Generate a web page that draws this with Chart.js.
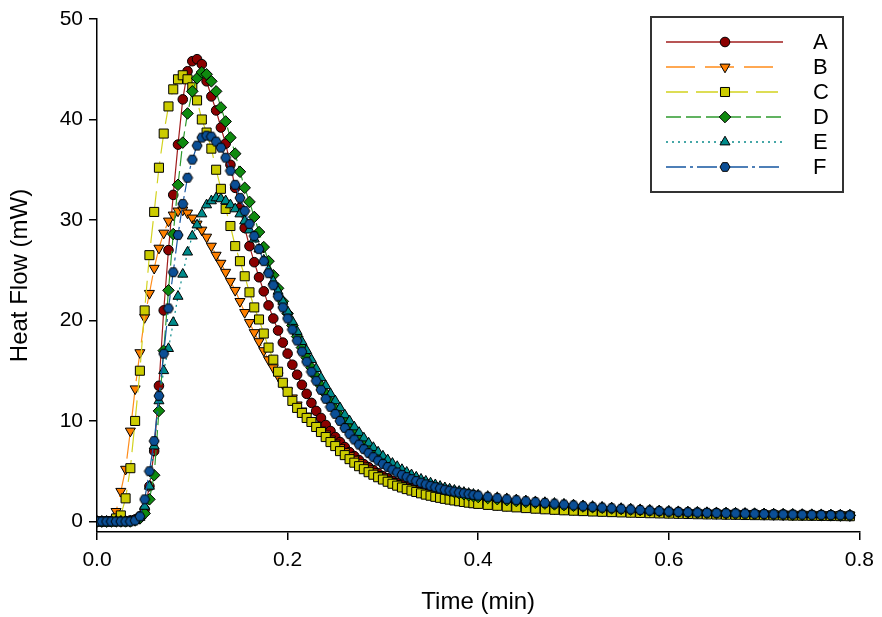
<!DOCTYPE html>
<html>
<head>
<meta charset="utf-8">
<script src="https://cdn.jsdelivr.net/npm/chart.js"></script>
<style>
  body { margin: 0; background: #fff; }
  #wrap { width: 882px; height: 617px; }
</style>
</head>
<body>
<div id="wrap"><canvas id="heatChart" width="882" height="617"></canvas></div>
<script>
// time (min)
const time = [
  0, 0.005, 0.01, 0.015, 0.02, 0.025, 0.03, 0.035, 0.04, 0.045,
  0.05, 0.055, 0.06, 0.065, 0.07, 0.075, 0.08, 0.085, 0.09, 0.095,
  0.1, 0.105, 0.11, 0.115, 0.12, 0.125, 0.13, 0.135, 0.14, 0.145,
  0.15, 0.155, 0.16, 0.165, 0.17, 0.175, 0.18, 0.185, 0.19, 0.195,
  0.2, 0.205, 0.21, 0.215, 0.22, 0.225, 0.23, 0.235, 0.24, 0.245,
  0.25, 0.255, 0.26, 0.265, 0.27, 0.275, 0.28, 0.285, 0.29, 0.295,
  0.3, 0.305, 0.31, 0.315, 0.32, 0.325, 0.33, 0.335, 0.34, 0.345,
  0.35, 0.355, 0.36, 0.365, 0.37, 0.375, 0.38, 0.385, 0.39, 0.395,
  0.4, 0.41, 0.42, 0.43, 0.44, 0.45, 0.46, 0.47, 0.48, 0.49,
  0.5, 0.51, 0.52, 0.53, 0.54, 0.55, 0.56, 0.57, 0.58, 0.59,
  0.6, 0.61, 0.62, 0.63, 0.64, 0.65, 0.66, 0.67, 0.68, 0.69,
  0.7, 0.71, 0.72, 0.73, 0.74, 0.75, 0.76, 0.77, 0.78, 0.79
];

// heat flow (mW) per sample
const flowA = [
  0, 0, 0, 0, 0, 0, 0, 0.1, 0.2, 0.5,
  1.2, 3.5, 7, 13.5, 21, 27, 32.5, 37.5, 42, 44.8,
  45.8, 46, 45.5, 43.8, 42.3, 40.9, 39.2, 37.6, 35.5, 33.2,
  31.2, 29.2, 27.4, 25.8, 24.3, 22.9, 21.5, 20.2, 19, 17.8,
  16.7, 15.6, 14.6, 13.6, 12.7, 11.8, 11, 10.3, 9.6, 9,
  8.4, 7.9, 7.4, 6.9, 6.5, 6.1, 5.7, 5.4, 5.1, 4.8,
  4.5, 4.3, 4.05, 3.85, 3.65, 3.45, 3.3, 3.15, 3, 2.87,
  2.75, 2.64, 2.54, 2.45, 2.36, 2.28, 2.2, 2.13, 2.06, 2,
  1.94, 1.83, 1.74, 1.66, 1.58, 1.51, 1.45, 1.39, 1.34, 1.29,
  1.25, 1.21, 1.17, 1.13, 1.1, 1.07, 1.04, 1.01, 0.98, 0.95,
  0.93, 0.9, 0.88, 0.86, 0.84, 0.82, 0.8, 0.78, 0.76, 0.74,
  0.72, 0.7, 0.69, 0.67, 0.66, 0.64, 0.63, 0.62, 0.6, 0.59
];
const flowB = [
  0, 0, 0, 0.2, 1, 3, 5.2, 9, 13.2, 16.8,
  20.3, 22.7, 25.2, 27.2, 28.7, 29.9, 30.5, 30.9, 31, 30.7,
  30.2, 29.6, 29, 28.3, 27.4, 26.5, 25.7, 24.8, 23.9, 23,
  21.9, 20.8, 19.8, 18.8, 17.9, 17, 16.1, 15.3, 14.5, 13.7,
  13, 12.3, 11.6, 11, 10.5, 10, 9.6, 9.1, 8.7, 8.2,
  7.8, 7.35, 6.95, 6.55, 6.2, 5.85, 5.52, 5.22, 4.94, 4.68,
  4.43, 4.2, 3.98, 3.78, 3.6, 3.42, 3.26, 3.1, 2.96, 2.83,
  2.7, 2.59, 2.48, 2.38, 2.29, 2.2, 2.12, 2.05, 1.98, 1.92,
  1.86, 1.76, 1.67, 1.59, 1.52, 1.45, 1.39, 1.33, 1.28, 1.23,
  1.19, 1.15, 1.11, 1.08, 1.05, 1.02, 0.99, 0.96, 0.94, 0.91,
  0.89, 0.87, 0.85, 0.83, 0.81, 0.79, 0.77, 0.75, 0.74, 0.72,
  0.7, 0.69, 0.67, 0.66, 0.65, 0.63, 0.62, 0.61, 0.6, 0.59
];
const flowC = [
  0, 0, 0, 0, 0.3, 0.6, 2.3, 5.3, 10, 15,
  21, 26.5, 30.8, 35.2, 38.6, 41.3, 43, 44, 44.4, 44,
  43.2, 41.9, 40, 38.7, 37.1, 35, 33.1, 31.1, 29.4, 27.4,
  25.9, 24.4, 22.8, 21.3, 20.1, 18.7, 17.3, 16.1, 14.9, 13.8,
  12.9, 12, 11.3, 10.8, 10.3, 9.9, 9.4, 8.9, 8.4, 7.9,
  7.5, 7, 6.6, 6.2, 5.85, 5.5, 5.2, 4.9, 4.65, 4.4,
  4.17, 3.95, 3.75, 3.56, 3.38, 3.22, 3.07, 2.93, 2.8, 2.67,
  2.56, 2.45, 2.35, 2.25, 2.17, 2.09, 2.01, 1.94, 1.87, 1.81,
  1.75, 1.65, 1.56, 1.47, 1.4, 1.33, 1.27, 1.21, 1.16, 1.11,
  1.07, 1.03, 0.99, 0.96, 0.93, 0.9, 0.87, 0.85, 0.82, 0.8,
  0.78, 0.76, 0.74, 0.72, 0.7, 0.69, 0.67, 0.66, 0.64, 0.63,
  0.62, 0.61, 0.6, 0.58, 0.57, 0.56, 0.55, 0.54, 0.53, 0.52
];
const flowD = [
  0, 0, 0, 0, 0, 0, 0, 0, 0.1, 0.3,
  0.8, 2.2, 4.6, 11, 17, 23, 28.6, 33.5, 37.7, 40.6,
  42.8, 44.1, 44.7, 44.5, 43.8, 42.8, 41.2, 39.8, 38.2, 36.6,
  34.8, 33.2, 31.8, 30.3, 28.8, 27.3, 25.9, 24.5, 23.2, 21.9,
  20.7, 19.5, 18.4, 17.3, 16.3, 15.3, 14.4, 13.5, 12.7, 11.9,
  11.2, 10.5, 9.9, 9.3, 8.75, 8.25, 7.75, 7.3, 6.9, 6.5,
  6.1, 5.78, 5.46, 5.17, 4.9, 4.65, 4.42, 4.2, 4, 3.81,
  3.63, 3.47, 3.32, 3.18, 3.05, 2.93, 2.82, 2.71, 2.61, 2.52,
  2.43, 2.33, 2.22, 2.12, 2.03, 1.94, 1.86, 1.78, 1.7, 1.63,
  1.56, 1.49, 1.42, 1.36, 1.3, 1.24, 1.18, 1.13, 1.08, 1.03,
  0.98, 0.94, 0.91, 0.88, 0.85, 0.83, 0.81, 0.79, 0.77, 0.75,
  0.73, 0.71, 0.7, 0.68, 0.67, 0.65, 0.64, 0.63, 0.61, 0.6
];
const flowE = [
  0, 0, 0, 0, 0, 0, 0, 0, 0.1, 0.4,
  1.5, 3.5, 7.5, 12, 15, 17.2, 19.8, 22.4, 24.6, 26.8,
  28.4, 29.5, 30.6, 31.5, 31.9, 32.2, 32.1, 31.9, 31.5, 31.1,
  30.6, 29.9, 29, 28.1, 27.1, 26, 25, 23.9, 22.9, 21.9,
  20.9, 19.9, 18.9, 17.9, 17, 16.1, 15.2, 14.3, 13.5, 12.7,
  12, 11.3, 10.6, 10, 9.4, 8.85, 8.3, 7.8, 7.35, 6.9,
  6.5, 6.13, 5.78, 5.46, 5.16, 4.89, 4.64, 4.41, 4.2, 4,
  3.82, 3.65, 3.49, 3.35, 3.22, 3.1, 2.99, 2.89, 2.79, 2.7,
  2.62, 2.49, 2.37, 2.26, 2.15, 2.05, 1.96, 1.88, 1.8, 1.72,
  1.64, 1.56, 1.49, 1.42, 1.35, 1.29, 1.23, 1.17, 1.11, 1.06,
  1.01, 0.97, 0.94, 0.91, 0.88, 0.86, 0.84, 0.82, 0.8, 0.78,
  0.76, 0.74, 0.72, 0.71, 0.69, 0.68, 0.67, 0.65, 0.64, 0.63
];
const flowF = [
  0, 0, 0, 0, 0, 0, 0, 0, 0.1, 0.5,
  2.2, 5, 8, 12.5, 16.7, 21.2, 24.8, 28.5, 31.6, 34.2,
  36, 37.4, 38.2, 38.4, 38.3, 37.8, 37.2, 36.2, 34.9, 33.5,
  32.2, 30.9, 29.6, 28.4, 27.1, 25.9, 24.7, 23.5, 22.4, 21.3,
  20.2, 19.1, 18, 16.9, 15.9, 14.9, 14, 13.1, 12.2, 11.4,
  10.7, 10, 9.3, 8.7, 8.15, 7.65, 7.2, 6.8, 6.4, 6.05,
  5.72, 5.42, 5.14, 4.88, 4.64, 4.42, 4.22, 4.03, 3.86, 3.7,
  3.55, 3.41, 3.28, 3.16, 3.06, 2.97, 2.88, 2.8, 2.72, 2.64,
  2.57, 2.45, 2.33, 2.22, 2.12, 2.02, 1.93, 1.85, 1.77, 1.69,
  1.6, 1.52, 1.45, 1.38, 1.32, 1.26, 1.2, 1.14, 1.08, 1.03,
  0.98, 0.95, 0.92, 0.89, 0.86, 0.84, 0.82, 0.8, 0.78, 0.76,
  0.74, 0.72, 0.7, 0.69, 0.67, 0.66, 0.65, 0.63, 0.62, 0.61
];

const seriesNames = ['A', 'B', 'C', 'D', 'E', 'F'];
const xTicks = [0, 0.2, 0.4, 0.6, 0.8];
const yTicks = [0, 10, 20, 30, 40, 50];

// hexagon marker for F
function hexagon(fill) {
  const c = document.createElement('canvas');
  c.width = 12; c.height = 12;
  const g = c.getContext('2d');
  g.beginPath();
  for (let k = 0; k < 6; k++) {
    const a = k * Math.PI / 3;
    const px = 6 + 5 * Math.cos(a), py = 6 + 5 * Math.sin(a);
    if (k === 0) g.moveTo(px, py); else g.lineTo(px, py);
  }
  g.closePath();
  g.fillStyle = fill;
  g.fill();
  g.strokeStyle = '#000';
  g.lineWidth = 1;
  g.stroke();
  return c;
}

const styles = [
  { line: '#a01c1c', fill: '#8b0000', dash: [], point: 'circle', radius: 4.8, rotation: 0 },
  { line: '#ff8c1a', fill: '#ff8000', dash: [29, 10], point: 'triangle', radius: 5.8, rotation: 180 },
  { line: '#d2d21e', fill: '#cccc00', dash: [22, 8], point: 'rect', radius: 6.4, rotation: 0 },
  { line: '#2e9a2e', fill: '#0f8a0f', dash: [15, 5], point: 'rectRot', radius: 5.8, rotation: 0 },
  { line: '#0a8a8a', fill: '#008b8b', dash: [2, 4], point: 'triangle', radius: 5.8, rotation: 0 },
  { line: '#1555a0', fill: '#0b4f96', dash: [20, 4, 3, 4], point: hexagon('#0b4f96'), radius: 5, rotation: 0 }
];

const flows = [flowA, flowB, flowC, flowD, flowE, flowF];

const datasets = flows.map((vals, i) => ({
  label: seriesNames[i],
  data: time.map((t, k) => ({ x: t, y: vals[k] })),
  borderColor: styles[i].line,
  borderWidth: 1.2,
  borderDash: styles[i].dash,
  backgroundColor: styles[i].fill,
  pointBackgroundColor: styles[i].fill,
  pointBorderColor: '#000',
  pointBorderWidth: 1,
  pointStyle: styles[i].point,
  pointRadius: styles[i].radius,
  pointRotation: styles[i].rotation,
  tension: 0,
  fill: false,
  order: flows.length - 1 - i
}));

// Legend drawn as a framed box, line sample with marker then label
const boxLegend = {
  id: 'boxLegend',
  afterDraw(chart) {
    const ctx = chart.ctx;
    const bx = 651, by = 17, bw = 192, bh = 175;
    ctx.save();
    ctx.strokeStyle = '#333';
    ctx.lineWidth = 2;
    ctx.strokeRect(bx, by, bw, bh);
    ctx.font = '22px "Liberation Sans", Arial, sans-serif';
    ctx.fillStyle = '#000';
    ctx.textBaseline = 'middle';
    chart.data.datasets.forEach((ds, i) => {
      const y = by + 25 + i * 25;
      ctx.save();
      ctx.strokeStyle = ds.borderColor;
      ctx.lineWidth = 1.6;
      ctx.setLineDash(ds.borderDash);
      ctx.beginPath();
      ctx.moveTo(666, y);
      ctx.lineTo(783, y);
      ctx.stroke();
      ctx.setLineDash([]);
      ctx.fillStyle = ds.pointBackgroundColor;
      ctx.strokeStyle = '#000';
      ctx.lineWidth = 1;
      Chart.helpers.drawPoint(ctx, {
        pointStyle: ds.pointStyle,
        rotation: ds.pointRotation,
        radius: ds.pointRadius,
        borderWidth: 1
      }, 725, y);
      ctx.restore();
      ctx.fillText(ds.label, 813, y + 1);
    });
    ctx.restore();
  }
};

Chart.defaults.font.family = '"Liberation Sans", Arial, sans-serif';
Chart.defaults.color = '#000';

const ctx = document.getElementById('heatChart').getContext('2d');
new Chart(ctx, {
  type: 'line',
  data: { datasets: datasets },
  options: {
    responsive: false,
    animation: false,
    layout: { padding: { top: 19, right: 20, left: 0, bottom: 0 } },
    plugins: {
      legend: { display: false },
      tooltip: { enabled: false }
    },
    scales: {
      x: {
        type: 'linear',
        min: 0,
        max: 0.8,
        afterBuildTicks: s => { s.ticks = xTicks.map(v => ({ value: v })); },
        afterFit: s => { s.height = 85; },
        ticks: {
          font: { size: 21 },
          padding: 8,
          maxRotation: 0,
          callback: v => Number(v).toFixed(1)
        },
        grid: { drawOnChartArea: false, drawTicks: true, tickLength: 8, color: '#000', lineWidth: 1.5 },
        border: { color: '#000', width: 1.5 },
        title: {
          display: true,
          text: 'Time (min)',
          font: { size: 24 },
          padding: { top: 0, bottom: 0 }
        }
      },
      y: {
        min: -1.05,
        max: 50,
        afterBuildTicks: s => { s.ticks = yTicks.map(v => ({ value: v })); },
        afterFit: s => { s.width = 97; },
        ticks: {
          font: { size: 21 },
          padding: 6
        },
        grid: { drawOnChartArea: false, drawTicks: true, tickLength: 8, color: '#000', lineWidth: 1.5 },
        border: { color: '#000', width: 1.5 },
        title: {
          display: true,
          text: 'Heat Flow (mW)',
          font: { size: 24 },
          padding: { top: 6, bottom: 0 }
        }
      }
    }
  },
  plugins: [boxLegend]
});
</script>
</body>
</html>
